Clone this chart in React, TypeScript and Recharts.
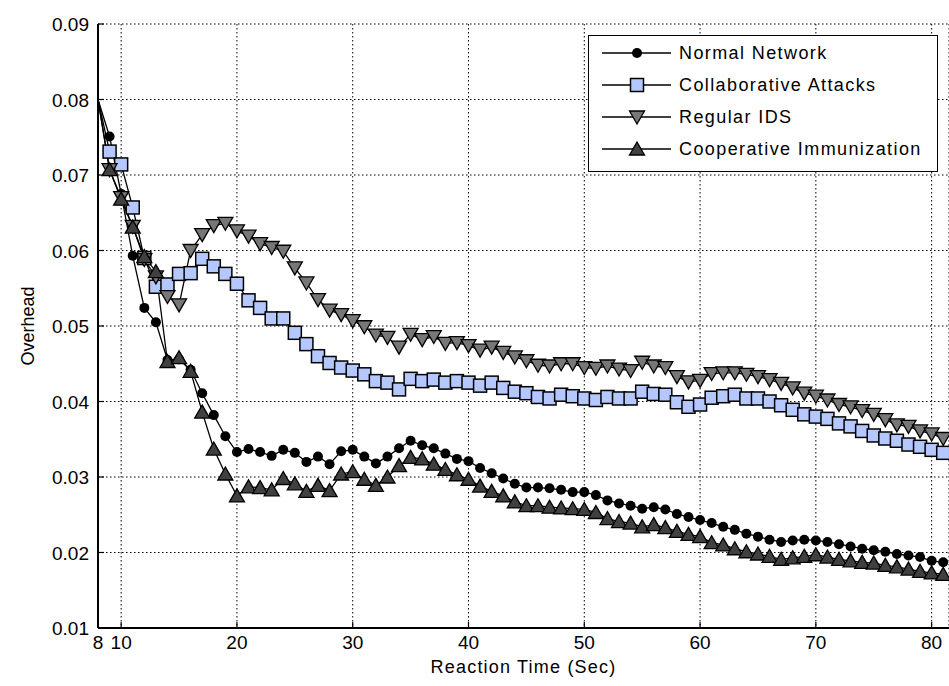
import React from 'react';
import {
  LineChart,
  Line,
  XAxis,
  YAxis,
  CartesianGrid,
  Legend,
} from 'recharts';

const reactionTimes = [
  8, 9, 10, 11, 12, 13, 14, 15, 16, 17, 18, 19, 20, 21, 22, 23, 24, 25, 26, 27,
  28, 29, 30, 31, 32, 33, 34, 35, 36, 37, 38, 39, 40, 41, 42, 43, 44, 45, 46, 47,
  48, 49, 50, 51, 52, 53, 54, 55, 56, 57, 58, 59, 60, 61, 62, 63, 64, 65, 66, 67,
  68, 69, 70, 71, 72, 73, 74, 75, 76, 77, 78, 79, 80, 81,
];

const normalNetwork = [
  0.08, 0.0751, 0.0675, 0.0593, 0.0524, 0.0505, 0.0455, 0.0456, 0.0442, 0.0411,
  0.0382, 0.0354, 0.0333, 0.0337, 0.0333, 0.0328, 0.0336, 0.0332, 0.032, 0.0327,
  0.0317, 0.0334, 0.0336, 0.0327, 0.0318, 0.0327, 0.0338, 0.0348, 0.0342, 0.0338,
  0.0331, 0.0324, 0.0321, 0.0312, 0.0305, 0.0298, 0.0291, 0.0286, 0.0286, 0.0285,
  0.0283, 0.028, 0.028, 0.0276, 0.0269, 0.0265, 0.0262, 0.0258, 0.026, 0.0257,
  0.0251, 0.0247, 0.0243, 0.0239, 0.0234, 0.023, 0.0225, 0.0221, 0.0217, 0.0214,
  0.0216, 0.0217, 0.0216, 0.0214, 0.0211, 0.0208, 0.0205, 0.0203, 0.0201, 0.0198,
  0.0196, 0.0194, 0.0189, 0.0187,
];

const collaborativeAttacks = [
  0.08, 0.0731, 0.0714, 0.0657, 0.059, 0.0552, 0.0555, 0.0569, 0.057, 0.0589,
  0.0579, 0.0569, 0.0556, 0.0534, 0.0524, 0.051, 0.051, 0.0491, 0.0476, 0.046,
  0.0451, 0.0445, 0.0441, 0.0436, 0.0427, 0.0425, 0.0416, 0.043, 0.0427, 0.0429,
  0.0425, 0.0427, 0.0425, 0.0421, 0.0425, 0.0418, 0.0413, 0.0411, 0.0406, 0.0404,
  0.0409, 0.0407, 0.0404, 0.0402, 0.0406, 0.0404, 0.0404, 0.0413, 0.041, 0.0409,
  0.0399, 0.0393, 0.0396, 0.0405, 0.0407, 0.0409, 0.0404, 0.0404, 0.04, 0.0395,
  0.0389, 0.0383, 0.038, 0.0377, 0.0371, 0.0367, 0.0361, 0.0355, 0.0351, 0.0348,
  0.0343, 0.034, 0.0336, 0.0332,
];

const regularIds = [
  0.08, 0.0707, 0.067, 0.0632, 0.0588, 0.0565, 0.0539, 0.0528, 0.06, 0.0621,
  0.0633, 0.0636, 0.0626, 0.0619, 0.0609, 0.0604, 0.0599, 0.0577, 0.0557, 0.0535,
  0.0521, 0.0515, 0.0507, 0.0499, 0.0488, 0.0485, 0.0472, 0.0489, 0.0482, 0.0486,
  0.0477, 0.0478, 0.0474, 0.0468, 0.0472, 0.0465, 0.0459, 0.0454, 0.0448, 0.0447,
  0.045, 0.045, 0.0445, 0.0444, 0.0447, 0.0443, 0.0441, 0.0452, 0.0447, 0.0445,
  0.0433, 0.0426, 0.0428, 0.0437, 0.0438, 0.0438, 0.0436, 0.0433, 0.0429, 0.0424,
  0.0418, 0.0411, 0.0407, 0.0402, 0.0396, 0.0393, 0.0388, 0.0383, 0.0376, 0.0369,
  0.0367, 0.0361, 0.0357, 0.0351,
];

const cooperativeImmunization = [
  0.08, 0.0707, 0.0668, 0.0631, 0.0592, 0.0572, 0.0453, 0.0458, 0.044, 0.0386,
  0.0337, 0.0304, 0.0275, 0.0287, 0.0286, 0.0283, 0.0298, 0.0291, 0.0281, 0.0289,
  0.0282, 0.0304, 0.0307, 0.0297, 0.0289, 0.03, 0.0315, 0.0326, 0.0324, 0.0317,
  0.031, 0.0303, 0.0297, 0.0288, 0.0281, 0.0275, 0.0267, 0.0262, 0.0262, 0.026,
  0.0259, 0.0258, 0.0257, 0.0253, 0.0245, 0.0241, 0.0239, 0.0234, 0.0237, 0.0233,
  0.0228, 0.0224, 0.0221, 0.0213, 0.021, 0.0205, 0.0201, 0.0198, 0.0195, 0.0191,
  0.0193, 0.0195, 0.0197, 0.0194, 0.0191, 0.0189, 0.0187, 0.0186, 0.0183, 0.0181,
  0.0178, 0.0175, 0.0173, 0.0171,
];

const xTicks = [8, 10, 20, 30, 40, 50, 60, 70, 80];
const yTicks = [0.01, 0.02, 0.03, 0.04, 0.05, 0.06, 0.07, 0.08, 0.09];

const seriesNames = [
  'Normal Network',
  'Collaborative Attacks',
  'Regular IDS',
  'Cooperative Immunization',
];

const data = reactionTimes.map((t, i) => ({
  t,
  normal: normalNetwork[i],
  collab: collaborativeAttacks[i],
  regular: regularIds[i],
  coop: cooperativeImmunization[i],
}));

const FONT = '"Liberation Sans", Arial, Helvetica, sans-serif';
const SQUARE_FILL = '#b4c8ff';
const DOWN_FILL = '#777777';
const UP_FILL = '#404040';

type Shape = 'circle' | 'square' | 'down' | 'up';

function marker(shape: Shape, cx: number, cy: number, key?: string) {
  if (shape === 'circle') {
    return <circle key={key} cx={cx} cy={cy} r={5} fill="#000" />;
  }
  if (shape === 'square') {
    return (
      <rect key={key} x={cx - 6.5} y={cy - 6.5} width={13} height={13}
        fill={SQUARE_FILL} stroke="#000" strokeWidth={1.5} />
    );
  }
  if (shape === 'down') {
    return (
      <polygon key={key}
        points={`${cx - 7.5},${cy - 6} ${cx + 7.5},${cy - 6} ${cx},${cy + 7}`}
        fill={DOWN_FILL} stroke="#000" strokeWidth={1.3} strokeLinejoin="miter" />
    );
  }
  return (
    <polygon key={key}
      points={`${cx - 7.5},${cy + 6} ${cx + 7.5},${cy + 6} ${cx},${cy - 7}`}
      fill={UP_FILL} stroke="#000" strokeWidth={1.3} strokeLinejoin="miter" />
  );
}

function makeDot(shape: Shape) {
  return (props: any) => {
    const { cx, cy, index } = props;
    if (index === 0 || cx == null || cy == null) return <g key={`e-${shape}-${index}`} />;
    return marker(shape, cx, cy, `m-${shape}-${index}`);
  };
}

function BottomTick(props: any) {
  const { x, y, payload } = props;
  return (
    <g>
      <line x1={x} y1={y} x2={x} y2={y - 6} stroke="#000" strokeWidth={1.2} />
      <text x={x} y={y + 21} textAnchor="middle" fontSize={19} fontFamily={FONT} fill="#000">
        {payload.value}
      </text>
    </g>
  );
}

function TopTick(props: any) {
  const { x, y } = props;
  return <line x1={x} y1={y} x2={x} y2={y + 6} stroke="#000" strokeWidth={1.2} />;
}

function LeftTick(props: any) {
  const { x, y, payload } = props;
  return (
    <g>
      <line x1={x} y1={y} x2={x + 6} y2={y} stroke="#000" strokeWidth={1.2} />
      <text x={x - 9} y={y + 7} textAnchor="end" fontSize={19} fontFamily={FONT} fill="#000">
        {payload.value.toFixed(2)}
      </text>
    </g>
  );
}

function RightTick(props: any) {
  const { x, y } = props;
  return <line x1={x} y1={y} x2={x - 6} y2={y} stroke="#000" strokeWidth={1.2} />;
}

const legendShapes: Shape[] = ['circle', 'square', 'down', 'up'];

function LegendBox() {
  return (
    <div
      style={{
        width: 350,
        height: 137,
        boxSizing: 'border-box',
        border: '1.5px solid #000',
        background: '#fff',
        paddingTop: 1,
        fontFamily: FONT,
      }}
    >
      {seriesNames.map((name, i) => (
        <div key={name} style={{ display: 'flex', alignItems: 'center', height: 32 }}>
          <svg width={90} height={32} style={{ display: 'block', flex: 'none' }}>
            <line x1={13} y1={16} x2={82} y2={16} stroke="#000" strokeWidth={1.3} />
            {marker(legendShapes[i], 48, 16)}
          </svg>
          <span style={{ fontSize: 18, letterSpacing: 1.4, color: '#000', whiteSpace: 'nowrap' }}>
            {name}
          </span>
        </div>
      ))}
    </div>
  );
}

export default function App() {
  return (
    <div style={{ position: 'absolute', left: 0, top: 0, width: 949, height: 686, overflow: 'hidden', background: '#fff' }}>
      <LineChart
        width={949}
        height={686}
        data={data}
        margin={{ top: 24, right: 0, bottom: 0, left: 0 }}
      >
        <CartesianGrid
          xAxisId="bottom"
          yAxisId="left"
          stroke="#000"
          strokeWidth={1}
          strokeDasharray="1.5 2.5"
        />
        <XAxis
          xAxisId="bottom"
          dataKey="t"
          type="number"
          domain={[8, 81.5]}
          ticks={xTicks}
          interval={0}
          height={58}
          tickSize={0}
          tickMargin={0}
          tickLine={false}
          tick={<BottomTick />}
          axisLine={{ stroke: '#000', strokeWidth: 2 }}
          label={{
            value: 'Reaction Time (Sec)',
            position: 'insideBottom',
            offset: 13,
            style: { fontSize: 18, fontFamily: FONT, fill: '#000', letterSpacing: 1.2 },
          }}
        />
        <XAxis
          xAxisId="top"
          dataKey="t"
          type="number"
          orientation="top"
          domain={[8, 81.5]}
          ticks={xTicks}
          interval={0}
          height={0}
          tickSize={0}
          tickMargin={0}
          tickLine={false}
          tick={<TopTick />}
          axisLine={{ stroke: '#000', strokeWidth: 2 }}
        />
        <YAxis
          yAxisId="left"
          type="number"
          domain={[0.01, 0.09]}
          ticks={yTicks}
          interval={0}
          width={98}
          tickSize={0}
          tickMargin={0}
          tickLine={false}
          tick={<LeftTick />}
          axisLine={{ stroke: '#000', strokeWidth: 2 }}
          label={{
            value: 'Overhead',
            angle: -90,
            position: 'insideLeft',
            offset: 28,
            style: { fontSize: 18, fontFamily: FONT, fill: '#000', textAnchor: 'middle' },
          }}
        />
        <YAxis
          yAxisId="right"
          orientation="right"
          type="number"
          domain={[0.01, 0.09]}
          ticks={yTicks}
          interval={0}
          width={0}
          tickSize={0}
          tickMargin={0}
          tickLine={false}
          tick={<RightTick />}
          axisLine={{ stroke: '#000', strokeWidth: 2 }}
        />
        <Legend
          layout="vertical"
          align="center"
          verticalAlign="middle"
          content={() => <LegendBox />}
          wrapperStyle={{ position: 'absolute', left: 588, top: 35, width: 350, height: 137 }}
        />
        <Line
          xAxisId="bottom"
          yAxisId="left"
          dataKey="normal"
          name={seriesNames[0]}
          stroke="#000"
          strokeWidth={1.3}
          dot={makeDot('circle')}
          activeDot={false}
          isAnimationActive={false}
        />
        <Line
          xAxisId="bottom"
          yAxisId="left"
          dataKey="collab"
          name={seriesNames[1]}
          stroke="#000"
          strokeWidth={1.3}
          dot={makeDot('square')}
          activeDot={false}
          isAnimationActive={false}
        />
        <Line
          xAxisId="bottom"
          yAxisId="left"
          dataKey="regular"
          name={seriesNames[2]}
          stroke="#000"
          strokeWidth={1.3}
          dot={makeDot('down')}
          activeDot={false}
          isAnimationActive={false}
        />
        <Line
          xAxisId="bottom"
          yAxisId="left"
          dataKey="coop"
          name={seriesNames[3]}
          stroke="#000"
          strokeWidth={1.3}
          dot={makeDot('up')}
          activeDot={false}
          isAnimationActive={false}
        />
      </LineChart>
    </div>
  );
}
